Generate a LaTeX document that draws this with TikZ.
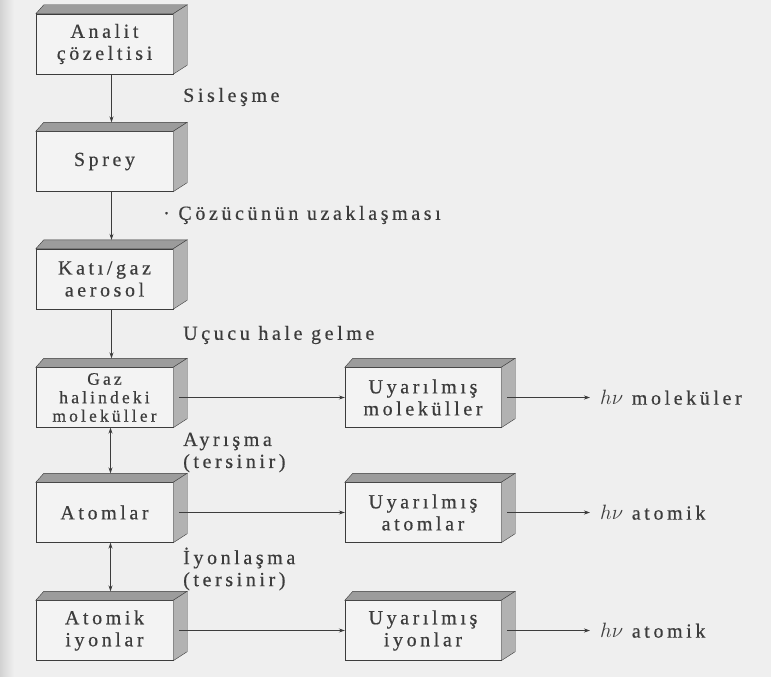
\documentclass[tikz,border=0pt]{standalone}
\usepackage{fontspec}
\setmainfont{Liberation Serif}[LetterSpace=18,FakeBold=0.5]
\usetikzlibrary{arrows.meta}
\definecolor{zemin}{HTML}{EFEFEF}
\definecolor{on}{HTML}{F3F3F3}
\definecolor{ust}{HTML}{9C9C9C}
\definecolor{yan}{HTML}{B2B2B2}
\definecolor{cizgi}{HTML}{3C3C3C}
\tikzset{every node/.style={inner sep=0pt,text=cizgi}}
\tikzset{kutu/.style={rectangle,draw=cizgi,fill=on,minimum width=137,minimum height=60,align=center}}
\tikzset{ukutu/.style={kutu,minimum width=156}}
\tikzset{yazi/.style={anchor=west,align=left}}
\tikzset{ok/.style={draw=cizgi,line width=0.7pt,-{Stealth[length=6pt,width=4pt]}}}
\tikzset{cok/.style={ok,{Stealth[length=6pt,width=4pt]}-{Stealth[length=6pt,width=4pt]}}}
\newcommand{\derin}[1]{%
  \filldraw[draw=cizgi,fill=ust] (#1.north west) -- ([shift={(8,-9)}]#1.north west)
    -- ([shift={(14,-9)}]#1.north east) -- (#1.north east) -- cycle;
  \filldraw[draw=cizgi,fill=yan] (#1.north east) -- ([shift={(14,-9)}]#1.north east)
    -- ([shift={(14,-9)}]#1.south east) -- (#1.south east) -- cycle;}

\begin{document}
\begin{tikzpicture}[x=1pt,y=-1pt,font=\fontsize{20}{22}\selectfont]
  \useasboundingbox (0,0) rectangle (771,677);
  \fill[zemin] (0,0) rectangle (771,677);
  \shade[left color=gray!35,right color=zemin] (0,0) rectangle (14,677);

      \node[kutu] (analit) at (104.5,44) {Analit\\çözeltisi};
      \node[kutu] (sprey) at (104.5,161.5) {Sprey};
      \node[kutu] (kati) at (104.5,279) {Katı/gaz\\aerosol};
      \node[kutu,font=\fontsize{17.5}{18.5}\selectfont] (gaz) at (104.5,397.5) {Gaz\\halindeki\\moleküller};
      \node[kutu] (atom) at (104.5,512.5) {Atomlar};
      \node[kutu] (iyon) at (104.5,630.5) {Atomik\\iyonlar};
      \node[ukutu] (umol) at (423,397.5) {Uyarılmış\\moleküller};
      \node[ukutu] (uatom) at (423,512.5) {Uyarılmış\\atomlar};
      \node[ukutu] (uiyon) at (423,630.5) {Uyarılmış\\iyonlar};
      \foreach \n in {analit,sprey,kati,gaz,atom,iyon,umol,uatom,uiyon}
        \derin{\n};

      \node[yazi] (sis) at (183,97) {Sisleşme};
      \node[yazi] (coz) at (163,215) {· Çözücünün uzaklaşması};
      \node[yazi] (ucu) at (183,335) {Uçucu hale gelme};
      \node[yazi] (ayr) at (183,452.5) {Ayrışma\\(tersinir)};
      \node[yazi] (iyl) at (183,569) {İyonlaşma\\(tersinir)};
      \node[yazi] (hmol) at (600,397.5) {$h\nu$ moleküler};
      \node[yazi] (hat) at (600,512.5) {$h\nu$ atomik};
      \node[yazi] (hiy) at (600,630.5) {$h\nu$ atomik};

        \draw[ok] ([xshift=7pt]analit.south) -- ([xshift=7pt,yshift=9pt]sprey.north);
        \draw[ok] ([xshift=7pt]sprey.south) -- ([xshift=7pt,yshift=9pt]kati.north);
        \draw[ok] ([xshift=7pt]kati.south) -- ([xshift=7pt,yshift=9pt]gaz.north);
        \draw[cok] ([xshift=6pt]gaz.south) -- ([xshift=6pt,yshift=9pt]atom.north);
        \draw[cok] ([xshift=6pt]atom.south) -- ([xshift=6pt,yshift=9pt]iyon.north);
        \draw[ok] ([xshift=6pt]gaz.east) -- (umol.west);
        \draw[ok] ([xshift=6pt]atom.east) -- (uatom.west);
        \draw[ok] ([xshift=6pt]iyon.east) -- (uiyon.west);
        \draw[ok,shorten >=10pt] ([xshift=6pt]umol.east) -- (hmol.west);
        \draw[ok,shorten >=10pt] ([xshift=6pt]uatom.east) -- (hat.west);
        \draw[ok,shorten >=10pt] ([xshift=6pt]uiyon.east) -- (hiy.west);
    \end{tikzpicture}
\end{document}
